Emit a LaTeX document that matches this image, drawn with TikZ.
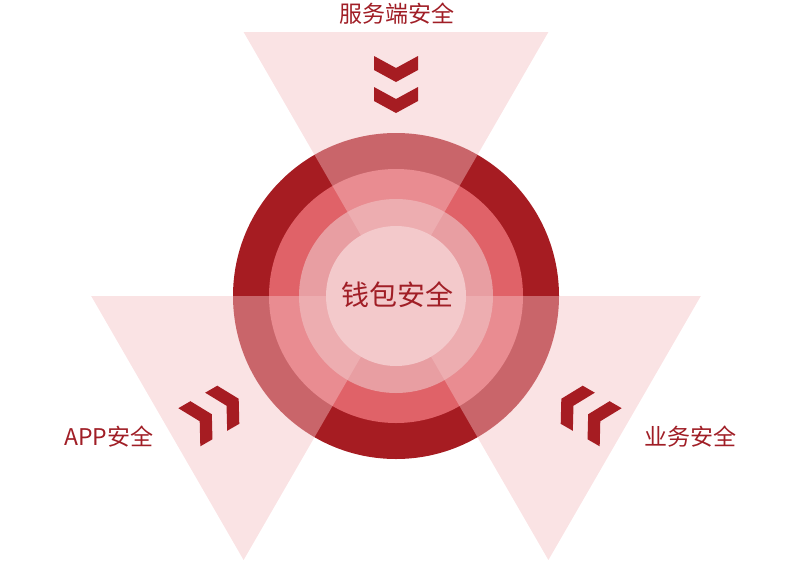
\documentclass[tikz,border=0pt]{standalone}
\usepackage{fontspec}
\newfontfamily\cjk{Noto Sans CJK SC}
\definecolor{darkring}{RGB}{166,28,34}
\definecolor{midring}{RGB}{224,98,104}
\definecolor{lightring}{RGB}{232,158,162}
\definecolor{centerc}{RGB}{243,201,203}
\definecolor{trifill}{RGB}{244,192,195}
\definecolor{textred}{RGB}{160,30,38}
\tikzset{
  tri/.style={fill=trifill, fill opacity=0.45, draw=none},
  chev/.style={fill=darkring, draw=none},
  lbl/.style={text=textred, font=\cjk\fontsize{23}{28}\selectfont, inner sep=0pt},
  pics/chevpair/.style={code={
    \fill[chev] (-22,-28.5) -- (0,-16.5) -- (22,-28.5) -- (22,-14.5) -- (0,-2.5) -- (-22,-14.5) -- cycle;
    \fill[chev] (-22,2.5) -- (0,14.5) -- (22,2.5) -- (22,16.5) -- (0,28.5) -- (-22,16.5) -- cycle;
  }}
}
\begin{document}
\begin{tikzpicture}[x=1pt,y=-1pt]
\useasboundingbox (0,0) rectangle (800,560);
\coordinate (c) at (396,296);
% rings
\fill[darkring] (c) circle[radius=163];
\fill[midring] (c) circle[radius=127];
\fill[lightring] (c) circle[radius=97];
% triangles
\path[tri] (c) -- (243.6,32) -- (548.4,32) -- cycle;
\path[tri] (c) -- (91.2,296) -- (243.6,560) -- cycle;
\path[tri] (c) -- (700.8,296) -- (548.4,560) -- cycle;
% center
\node[circle, fill=centerc, minimum size=140pt, inner sep=0pt] (core) at (c) {};
\node[text=textred, font=\cjk\fontsize{28}{32}\selectfont, inner sep=0pt] (wallet) at (397,295) {钱包安全};
% chevrons
\pic at (396,84.5) {chevpair};
\pic[rotate=120] at (214,413) {chevpair};
\pic[rotate=-120] at (586,413) {chevpair};
% labels
\node[lbl] (server) at (397,14) {服务端安全};
\node[lbl] (app) at (109,437) {APP安全};
\node[lbl] (biz) at (690,437) {业务安全};
\end{tikzpicture}
\end{document}
